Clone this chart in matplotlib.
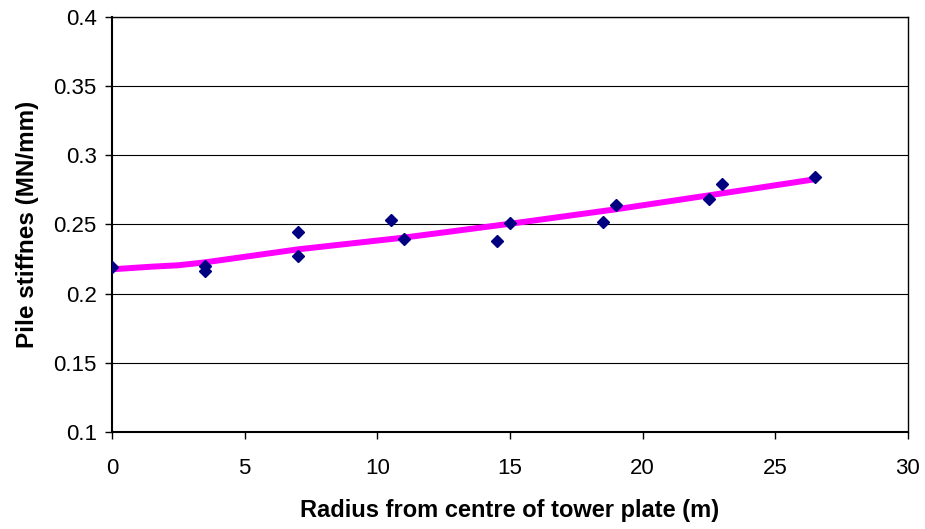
import matplotlib
matplotlib.use("Agg")
import matplotlib.pyplot as plt

plt.rcParams['font.family'] = ['Liberation Sans', 'DejaVu Sans']

# measured pile stiffness vs radius
radius = [0, 3.5, 3.5, 7, 7, 10.5, 11, 14.5, 15, 18.5, 19, 22.5, 23, 26.5]
stiffness = [0.2195, 0.220, 0.2166, 0.2448, 0.2275, 0.2532, 0.2398,
             0.2383, 0.2508, 0.252, 0.2644, 0.2682, 0.2793, 0.2845]

# trend line
trend_x = [0, 1.5, 2.5, 3.5, 7, 11, 15, 19, 23, 26.5]
trend_y = [0.2176, 0.2195, 0.2205, 0.2226, 0.232, 0.2405, 0.2505, 0.261, 0.2725, 0.2827]

xticks = [0, 5, 10, 15, 20, 25, 30]
yticks = [0.1, 0.15, 0.2, 0.25, 0.3, 0.35, 0.4]

fig = plt.figure(figsize=(9.25, 5.29), dpi=100)
ax = fig.add_axes([0.121, 0.1834, 0.8605, 0.7845])

ax.plot(trend_x, trend_y, color='#FF00FF', lw=4.3, solid_capstyle='butt', zorder=2)
ax.plot(radius, stiffness, linestyle='none', marker='D', ms=6.5,
        color='#000080', zorder=3)

ax.set_xlim(0, 30)
ax.set_ylim(0.1, 0.4)
ax.set_xticks(xticks)
ax.set_yticks(yticks)
ax.set_xticklabels([str(t) for t in xticks])
ax.set_yticklabels([f"{t:g}" for t in yticks])
ax.yaxis.grid(True, color='black', lw=0.8)
ax.set_axisbelow(True)
ax.tick_params(direction='out', length=5, width=1, labelsize=16, colors='black')
ax.tick_params(axis='x', pad=14)
ax.tick_params(axis='y', pad=6)
for s in ax.spines.values():
    s.set_color('black')
    s.set_linewidth(1)
ax.spines['left'].set_linewidth(1.5)
ax.spines['bottom'].set_linewidth(1.5)

ax.set_xlabel('Radius from centre of tower plate (m)', fontsize=17, fontweight='bold', labelpad=14)
ax.set_ylabel('Pile stiffnes (MN/mm)', fontsize=17.5, fontweight='bold', labelpad=10)

fig.savefig('out.png', dpi=100)
